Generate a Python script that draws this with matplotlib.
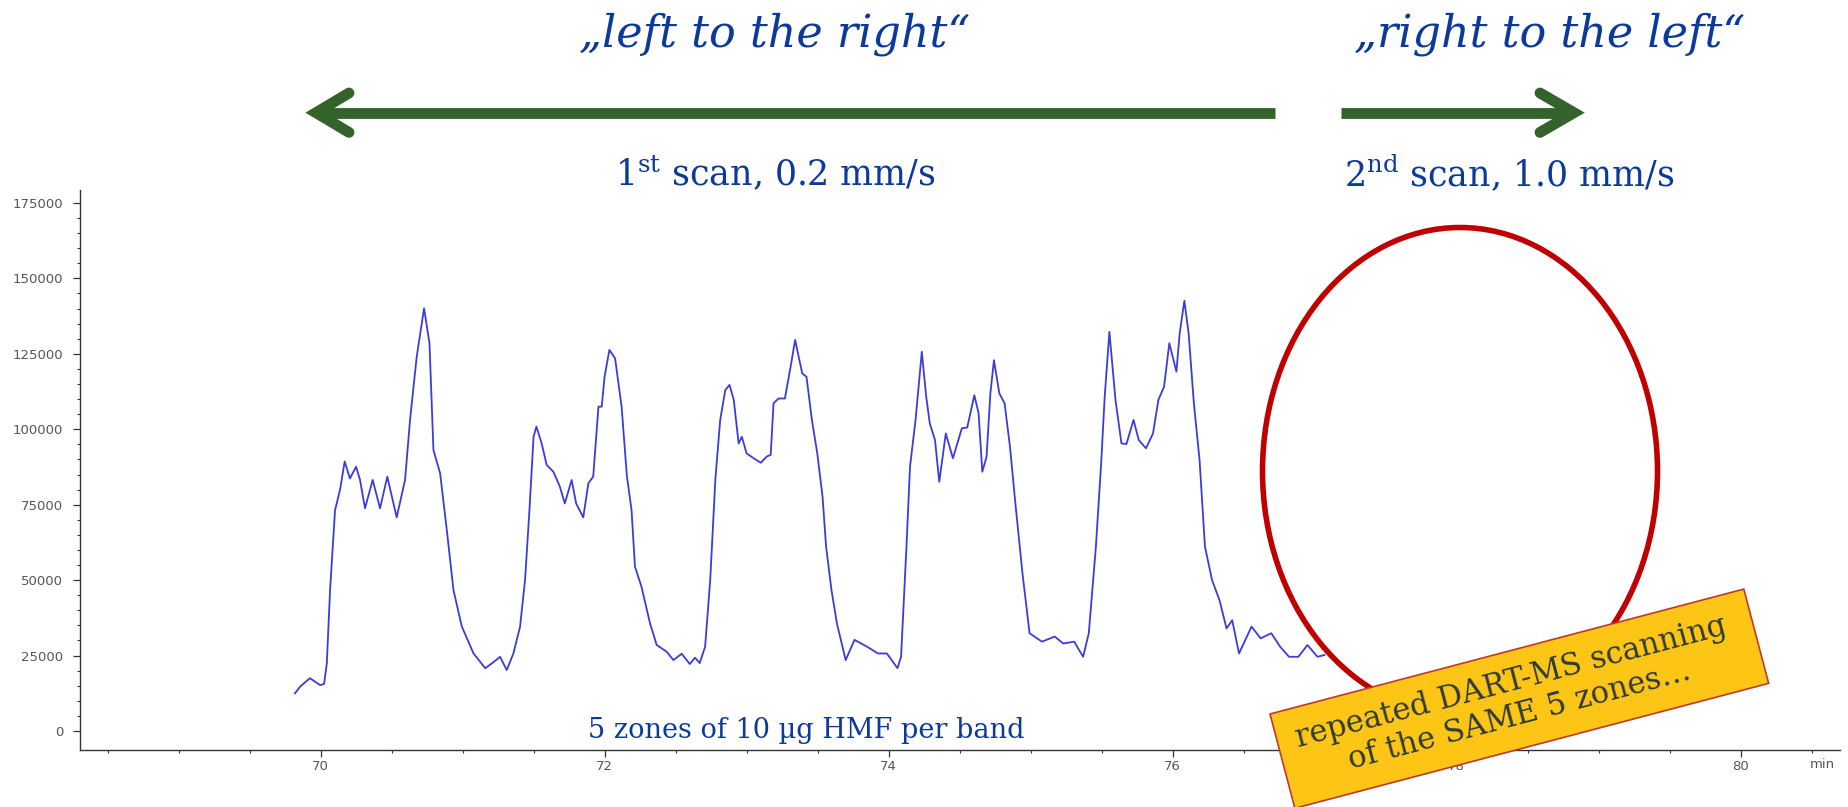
import matplotlib
matplotlib.use('Agg')
import matplotlib.pyplot as plt
from matplotlib.patches import Ellipse, Rectangle
import numpy as np

# chromatogram (time in min, intensity in counts)
time_min = [69.82, 69.856, 69.925, 69.997, 70.025, 70.044, 70.067, 70.102, 70.137, 70.17,
            70.207, 70.25, 70.278, 70.313, 70.367, 70.419, 70.47, 70.536, 70.595, 70.63,
            70.677, 70.729, 70.767, 70.795, 70.842, 70.889, 70.936, 70.995, 71.077, 71.16,
            71.22, 71.264, 71.311, 71.358, 71.405, 71.44, 71.471, 71.5, 71.52, 71.557,
            71.592, 71.64, 71.685, 71.72, 71.768, 71.8, 71.85, 71.886, 71.92, 71.957,
            71.98, 72.0, 72.034, 72.074, 72.12, 72.157, 72.19, 72.214, 72.26, 72.32,
            72.367, 72.437, 72.485, 72.543, 72.6, 72.637, 72.67, 72.708, 72.744, 72.78,
            72.814, 72.85, 72.88, 72.91, 72.944, 72.967, 73.0, 73.05, 73.1, 73.143,
            73.17, 73.19, 73.225, 73.27, 73.31, 73.342, 73.392, 73.422, 73.46, 73.498,
            73.535, 73.56, 73.598, 73.636, 73.698, 73.76, 73.85, 73.925, 73.988, 74.063,
            74.088, 74.126, 74.151, 74.19, 74.234, 74.265, 74.29, 74.327, 74.357, 74.403,
            74.453, 74.516, 74.554, 74.604, 74.634, 74.66, 74.69, 74.717, 74.742, 74.78,
            74.817, 74.855, 74.893, 74.943, 74.993, 75.08, 75.17, 75.23, 75.307, 75.37,
            75.41, 75.46, 75.497, 75.522, 75.555, 75.598, 75.64, 75.675, 75.725, 75.762,
            75.813, 75.862, 75.9, 75.94, 75.977, 76.027, 76.05, 76.083, 76.113, 76.15,
            76.19, 76.228, 76.278, 76.33, 76.38, 76.42, 76.468, 76.556, 76.62, 76.695,
            76.758, 76.82, 76.886, 76.95, 77.02, 77.07]
intensity = [12500, 14700, 17500, 15200, 15600, 22400, 46700, 73200, 79900, 89300,
             83700, 87600, 83200, 73800, 83200, 73800, 84300, 70800, 83200, 103000,
             124000, 140100, 128500, 93100, 85400, 66600, 46700, 34600, 25700, 20800,
             22900, 24600, 20200, 25700, 34600, 50000, 73200, 97500, 100900, 95300,
             88200, 85900, 81000, 75400, 83200, 75400, 70800, 82100, 84300, 107500,
             107500, 117400, 126300, 123500, 107500, 84600, 73200, 54500, 47800, 35700,
             28500, 26300, 23500, 25600, 22200, 24300, 22500, 27900, 50000, 83200,
             103000, 113000, 114700, 109700, 95300, 97500, 92000, 90400, 88900, 91000,
             91500, 108600, 110200, 110200, 120700, 129600, 118500, 117400, 103100, 92000,
             77700, 61100, 46700, 35700, 23500, 30200, 27900, 25700, 25700, 20800,
             24600, 61100, 87600, 103100, 125700, 110800, 102000, 96400, 82600, 98600,
             90400, 100300, 100600, 111300, 105300, 85900, 90900, 111900, 122900, 111900,
             108600, 94200, 75400, 52200, 32400, 29600, 31300, 29000, 29600, 24600,
             32400, 61100, 88700, 110800, 132300, 109700, 95300, 95100, 103100, 96400,
             93700, 98600, 109700, 114100, 128500, 119100, 131800, 142600, 131800, 108600,
             89800, 61100, 50000, 43400, 34000, 36700, 25700, 34600, 30700, 32400,
             27900, 24600, 24600, 28500, 24600, 25200]

y_major = list(range(0, 175001, 25000))
x_major = [70, 72, 74, 76, 78, 80]

scan_titles = ['\u201eleft to the right\u201c', '\u201eright to the left\u201c']
scan_labels = [r'1$^{\mathrm{st}}$ scan, 0.2 mm/s', r'2$^{\mathrm{nd}}$ scan, 1.0 mm/s']
zone_note = '5 zones of 10 \u00b5g HMF per band'
box_note = 'repeated DART-MS scanning\nof the SAME 5 zones\u2026'

W, H = 1849, 807
blue_txt = '#0b3a9a'
green = '#33632a'
tick_gray = '#555555'

plt.rcParams['font.family'] = ['DejaVu Sans']
plt.rcParams['mathtext.fontset'] = 'dejavuserif'

fig = plt.figure(figsize=(W / 100, H / 100), dpi=100)
ax = fig.add_axes([80 / W, 1 - 750 / H, (1840 - 80) / W, (750 - 190) / H])
ax.plot(time_min, intensity, color='#3c3cd8', lw=1.3)
ax.set_xlim(68.306, 80.70)
ax.set_ylim(-6300, 179300)

for s in ['top', 'right']:
    ax.spines[s].set_visible(False)
for s in ['left', 'bottom']:
    ax.spines[s].set_color('#333333')
    ax.spines[s].set_linewidth(1.0)

ax.set_yticks(y_major)
ax.set_yticklabels([str(v) for v in y_major])
ax.set_yticks(np.arange(0, 180000, 5000), minor=True)
ax.set_xticks(x_major)
ax.set_xticklabels([str(v) for v in x_major])
ax.set_xticks(np.arange(68.5, 80.6, 0.5), minor=True)
ax.tick_params(which='major', length=5, width=0.9, color='#333333',
               labelsize=9.5, labelcolor=tick_gray)
ax.tick_params(axis='y', which='major', pad=7)
ax.tick_params(axis='x', which='major', pad=2.5)
ax.tick_params(which='minor', length=2.5, width=0.8, color='#333333')

# overlay in pixel coordinates (y from top) for the slide annotations
ov = fig.add_axes([0, 0, 1, 1])
ov.set_xlim(0, W)
ov.set_ylim(H, 0)
ov.axis('off')

ov.text(1822, 765, 'min', ha='center', va='center', fontsize=9.5, color=tick_gray)

# titles and arrows
ov.text(775, 47, scan_titles[0], ha='center', va='baseline', fontsize=32,
        family='DejaVu Serif', style='italic', color=blue_txt)
ov.text(1550, 47, scan_titles[1], ha='center', va='baseline', fontsize=32,
        family='DejaVu Serif', style='italic', color=blue_txt)
ov.text(775, 186, scan_labels[0], ha='center', va='baseline', fontsize=25,
        family='DejaVu Serif', color=blue_txt)
ov.text(1509, 186, scan_labels[1], ha='center', va='baseline', fontsize=25,
        family='DejaVu Serif', color=blue_txt)

ov.plot([1275, 316], [112.7, 112.7], color=green, lw=7.8, solid_capstyle='butt')
ov.plot([349, 316, 349], [93, 112.7, 132.4], color=green, lw=7.8,
        solid_joinstyle='miter', solid_capstyle='round')
ov.plot([1341, 1572], [112.7, 112.7], color=green, lw=7.8, solid_capstyle='butt')
ov.plot([1540, 1574, 1540], [93, 112.7, 132.4], color=green, lw=7.8,
        solid_joinstyle='miter', solid_capstyle='round')

ov.text(806, 738, zone_note, ha='center', va='baseline', fontsize=19.5,
        family='DejaVu Serif', color=blue_txt)

ov.add_patch(Ellipse((1460, 471), 395, 487, fill=False, ec='#c00000', lw=4, zorder=4))

ov.add_patch(Rectangle((1270, 714), 490, 97.5, angle=-14.77, fc='#fdc516',
                       ec='#c0392b', lw=1.2, zorder=5))
ov.text(1515, 699, box_note, rotation=14.77, rotation_mode='anchor',
        ha='center', va='center', multialignment='center', fontsize=22,
        family='DejaVu Serif', color='#2f3b3b', linespacing=1.12, zorder=6)

fig.savefig('out.png', dpi=100)
